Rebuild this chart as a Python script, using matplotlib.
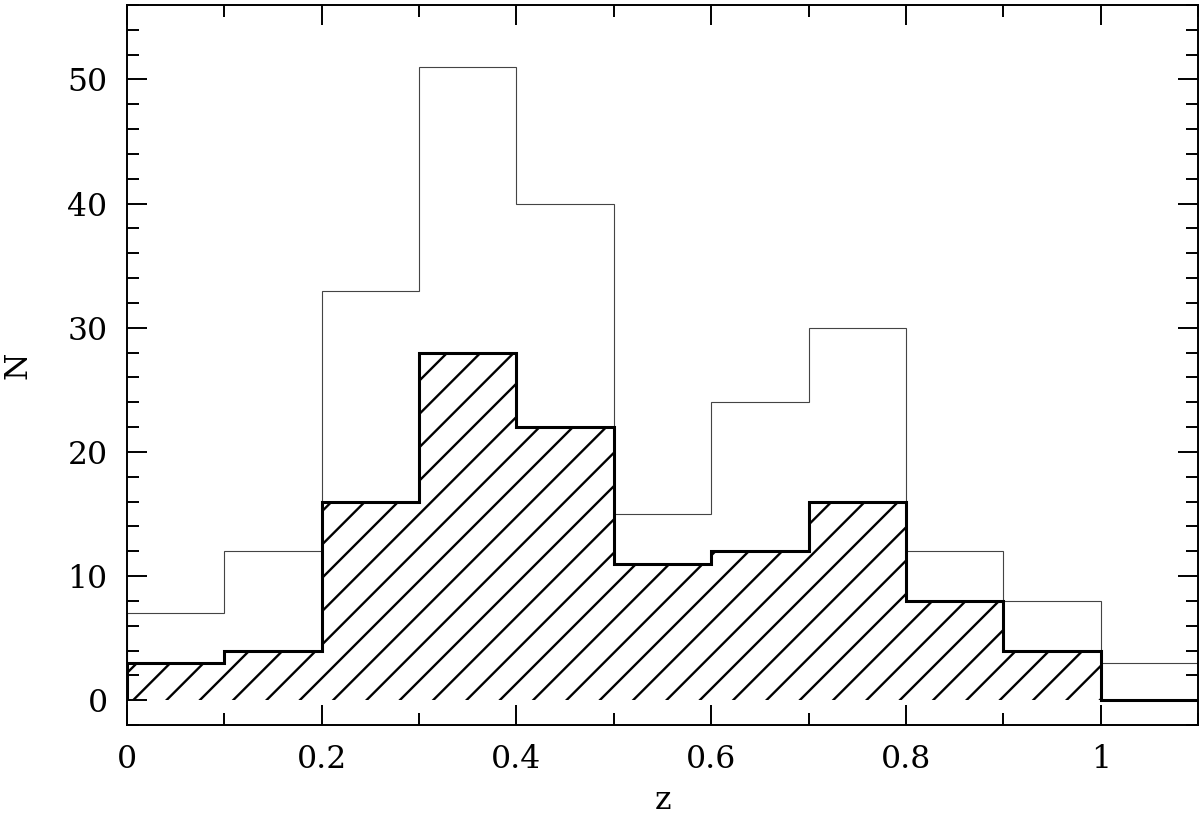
import matplotlib
matplotlib.use("Agg")
import matplotlib.pyplot as plt
from matplotlib.ticker import MultipleLocator, FuncFormatter

# redshift bins (width 0.1) and counts
bin_edges = [0.0, 0.1, 0.2, 0.3, 0.4, 0.5, 0.6, 0.7, 0.8, 0.9, 1.0, 1.1]
n_all = [7, 12, 33, 51, 40, 15, 24, 30, 12, 8, 3]
n_sub = [3, 4, 16, 28, 22, 11, 12, 16, 8, 4, 0]

plt.rcParams["font.family"] = ["DejaVu Serif"]
plt.rcParams["hatch.linewidth"] = 0.85

fig = plt.figure(figsize=(6, 4.075), dpi=200)
ax = fig.add_axes([127 / 1200, 1 - 725 / 815, 1071 / 1200, 720 / 815])

# full sample, thin outline
ax.stairs(n_all, bin_edges, baseline=0, fill=False, color="#444444", linewidth=0.4)

# subsample: hatched area + thick outline
ax.stairs(n_sub, bin_edges, baseline=0, fill=True, facecolor="none",
          edgecolor="black", hatch="//", linewidth=0)
ax.stairs(n_sub, bin_edges, baseline=0, fill=False, color="black", linewidth=1.1)

ax.set_xlim(0, 1.1)
ax.set_ylim(-2, 56)

ax.xaxis.set_major_locator(MultipleLocator(0.2))
ax.xaxis.set_minor_locator(MultipleLocator(0.1))
ax.yaxis.set_major_locator(MultipleLocator(10))
ax.yaxis.set_minor_locator(MultipleLocator(2))
ax.xaxis.set_major_formatter(FuncFormatter(lambda v, p: "%g" % round(v, 3)))

ax.tick_params(which="both", direction="in", top=True, right=True,
               width=0.7, labelsize=11.3)
ax.tick_params(which="major", length=7.2)
ax.tick_params(which="minor", length=4.3)
ax.tick_params(axis="x", pad=7)
ax.tick_params(axis="y", pad=7)
for sp in ax.spines.values():
    sp.set_linewidth(0.7)

ax.set_xlabel("z", fontsize=11.3)
ax.set_ylabel("N", fontsize=11.3)
ax.xaxis.set_label_coords(0.5, -0.083)
ax.yaxis.set_label_coords(-0.087, 0.5)

fig.savefig("out.png", dpi=200)
